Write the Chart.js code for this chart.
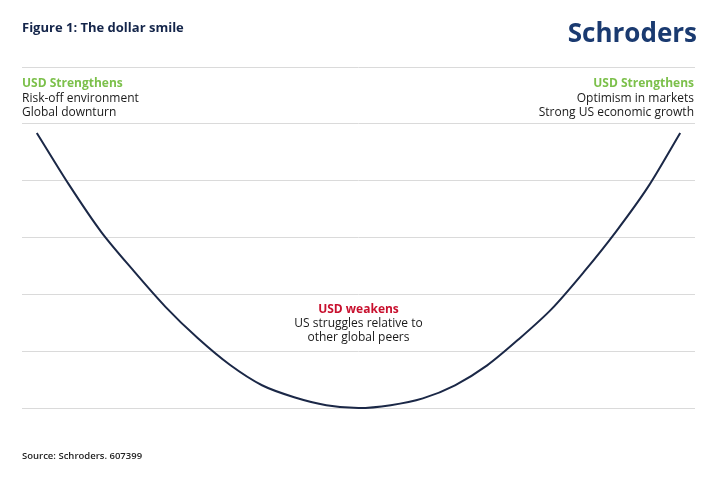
<!DOCTYPE html>
<html>
<head>
<meta charset="utf-8">
<script src="https://cdn.jsdelivr.net/npm/chart.js@4.4.1/dist/chart.umd.min.js"></script>
<style>
  html, body { margin: 0; padding: 0; background: #fff; }
  #wrap { width: 720px; height: 479px; position: relative; }
</style>
</head>
<body>
<div id="wrap"><canvas id="smile"></canvas></div>
<script>
// position along the cycle (0..100) and relative USD strength
var cyclePos = [0, 5, 10, 15, 20, 25, 30, 35, 40, 45, 50, 55, 60, 65, 70, 75, 80, 85, 90, 95, 100];
var usdLevel = [4.84, 3.93, 3.1, 2.42, 1.78, 1.23, 0.76, 0.40, 0.19, 0.05, 0, 0.05, 0.17, 0.40, 0.75, 1.22, 1.74, 2.39, 3.1, 3.89, 4.84];
var yTicks = [0, 1, 2, 3, 4, 5, 6];

var titleText = 'Figure 1: The dollar smile';
var sourceText = 'Source: Schroders. 607399';
var leftNotes = ['USD Strengthens', 'Risk-off environment', 'Global downturn'];
var rightNotes = ['USD Strengthens', 'Optimism in markets', 'Strong US economic growth'];
var midNotes = ['USD weakens', 'US struggles relative to', 'other global peers'];

var points = cyclePos.map(function (x, i) { return { x: x, y: usdLevel[i] }; });

// all the annotation text, drawn on top of the chart
var textPlugin = {
  id: 'smileText',
  afterDraw: function (chart) {
    var c = chart.ctx;
    var area = chart.chartArea;
    var xs = chart.scales.x;
    var ys = chart.scales.y;
    c.save();
    c.textBaseline = 'alphabetic';

    c.fillStyle = '#14254a';
    c.font = 'bold 13px "Open Sans"';
    c.textAlign = 'left';
    c.fillText(titleText, area.left, 32);

    c.fillStyle = '#1a3a70';
    c.font = 'bold 26px "Open Sans"';
    c.textAlign = 'right';
    c.fillText('Schroders', area.right + 2, 42);

    var top = ys.getPixelForValue(6);
    function block(lines, x, align, y0) {
      c.textAlign = align;
      lines.forEach(function (t, i) {
        if (i === 0) {
          c.font = 'bold 12px "Open Sans"';
        } else {
          c.font = '12px "Open Sans"';
          c.fillStyle = '#1a1a1a';
        }
        c.fillText(t, x, y0 + i * 14.2);
      });
    }
    c.fillStyle = '#7cc04b';
    block(leftNotes, area.left, 'left', top + 20.3);
    c.fillStyle = '#7cc04b';
    block(rightNotes, area.right - 1, 'right', top + 20.3);
    c.fillStyle = '#c8102e';
    block(midNotes, xs.getPixelForValue(50), 'center', ys.getPixelForValue(1.68));

    c.fillStyle = '#222';
    c.font = '600 9.5px "Open Sans"';
    c.textAlign = 'left';
    c.fillText(sourceText, area.left, 459);
    c.restore();
  }
};

new Chart(document.getElementById('smile'), {
  type: 'scatter',
  data: {
    datasets: [{
      data: points,
      showLine: true,
      borderColor: '#1b2847',
      borderWidth: 2,
      pointRadius: 0,
      tension: 0.3,
      clip: false
    }]
  },
  options: {
    responsive: true,
    maintainAspectRatio: false,
    animation: false,
    layout: { padding: { left: 22, right: 25, top: 67, bottom: 71 } },
    plugins: { legend: { display: false }, tooltip: { enabled: false } },
    scales: {
      x: { type: 'linear', min: -2.3, max: 102.3, display: false },
      y: {
        min: yTicks[0],
        max: yTicks[yTicks.length - 1],
        afterBuildTicks: function (axis) {
          axis.ticks = yTicks.map(function (v) { return { value: v }; });
        },
        ticks: { display: false },
        border: { display: false },
        grid: { color: '#dadada', lineWidth: 1, drawTicks: false }
      }
    }
  },
  plugins: [textPlugin]
});
</script>
</body>
</html>
